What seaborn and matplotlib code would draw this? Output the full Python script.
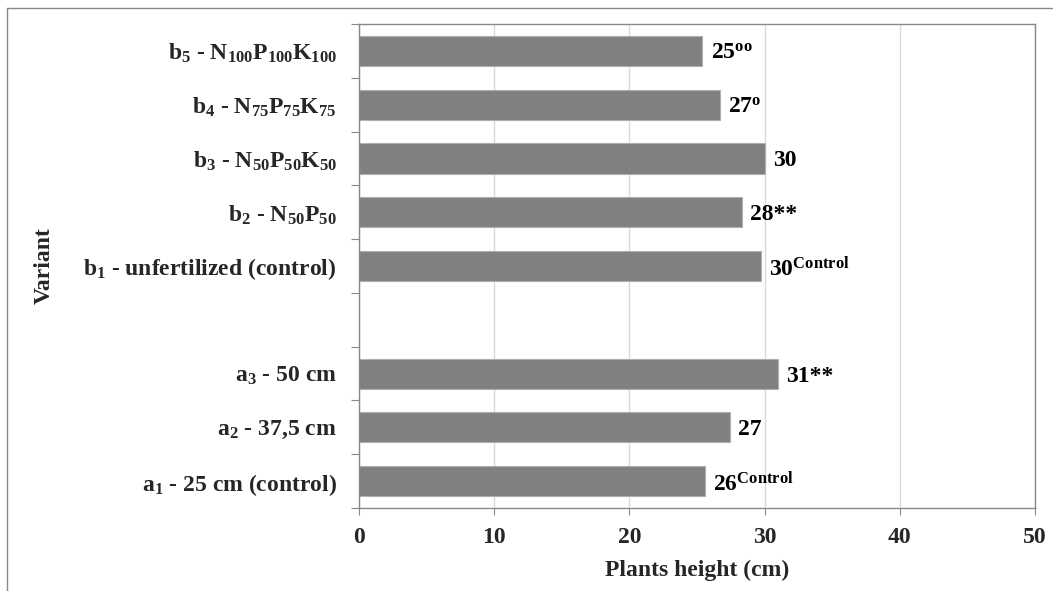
import numpy as np
import pandas as pd
import seaborn as sns
import matplotlib.pyplot as plt
from matplotlib.lines import Line2D

# data (top to bottom, blank row is the gap between groups)
variants = [r'$\mathbf{b_5}$ - $\mathbf{N_{100}P_{100}K_{100}}$',
            r'$\mathbf{b_4}$ - $\mathbf{N_{75}P_{75}K_{75}}$',
            r'$\mathbf{b_3}$ - $\mathbf{N_{50}P_{50}K_{50}}$',
            r'$\mathbf{b_2}$ - $\mathbf{N_{50}P_{50}}$',
            r'$\mathbf{b_1}$ - unfertilized (control)',
            ' ',
            r'$\mathbf{a_3}$ - 50 cm',
            r'$\mathbf{a_2}$ - 37,5 cm',
            r'$\mathbf{a_1}$ - 25 cm (control)']
height = [25.4, 26.7, 30.0, 28.35, 29.7, np.nan, 31.0, 27.4, 25.6]
value_labels = [r'25$^{\mathrm{oo}}$', r'27$^{\mathrm{o}}$', '30', '28**',
                r'30$^{\mathbf{Control}}$', '', '31**', '27',
                r'26$^{\mathbf{Control}}$']

df = pd.DataFrame({'Variant': variants, 'Height': height})

sns.set_style('white')
plt.rcParams['font.family'] = ['Liberation Serif', 'DejaVu Serif']
plt.rcParams['font.weight'] = 'bold'
plt.rcParams['mathtext.fontset'] = 'custom'
plt.rcParams['mathtext.rm'] = 'Liberation Serif'
plt.rcParams['mathtext.bf'] = 'Liberation Serif:bold'
plt.rcParams['mathtext.it'] = 'Liberation Serif:italic'

fs = 17

fig = plt.figure(figsize=(10.53, 5.91), dpi=100)
ax = fig.add_axes([0.341, 0.1404, 0.642, 0.819])

sns.barplot(data=df, y='Variant', x='Height', order=variants, orient='h',
            color='#808080', saturation=1, width=0.56,
            edgecolor='#b0b0b0', linewidth=0.8, ax=ax)

for i, (v, lab) in enumerate(zip(height, value_labels)):
    if np.isnan(v):
        continue
    ax.text(v + 0.6, i, lab, va='center_baseline', ha='left', fontsize=fs,
            fontweight='bold', color='black')

ax.set_xlim(0, 50)
ax.set_ylim(len(variants) - 0.5, -0.5)
ax.set_xticks([0, 10, 20, 30, 40, 50])
ax.set_yticks(np.arange(len(variants)))
ax.set_yticklabels(variants, fontsize=fs, fontweight='bold')
ax.tick_params(axis='x', labelsize=fs, length=5, width=0.8, color='#888888', pad=9)
ax.tick_params(axis='y', length=0, pad=16)
# minor ticks at category boundaries like the original
ax.set_yticks(np.arange(-0.5, len(variants)), minor=True)
ax.tick_params(axis='y', which='minor', length=6, width=0.8, color='#888888', left=True)
ax.tick_params(axis='x', bottom=True)
for t in ax.get_xticklabels():
    t.set_fontweight('bold')

ax.grid(axis='x', color='#d9d9d9', linewidth=1)
ax.set_axisbelow(True)
for s in ax.spines.values():
    s.set_color('#888888')
    s.set_linewidth(1)

ax.set_xlabel('Plants height (cm)', fontsize=fs, fontweight='bold', labelpad=8)
ax.set_ylabel('Variant', fontsize=fs, fontweight='bold')
ax.yaxis.set_label_coords(-0.45, 0.5)

# outer chart border (top and left)
fig.add_artist(Line2D([7 / 1053, 7 / 1053], [0, 1 - 8 / 591], transform=fig.transFigure,
                      color='#888888', linewidth=1))
fig.add_artist(Line2D([7 / 1053, 1], [1 - 8 / 591, 1 - 8 / 591], transform=fig.transFigure,
                      color='#888888', linewidth=1))

plt.savefig('out.png', dpi=100)
